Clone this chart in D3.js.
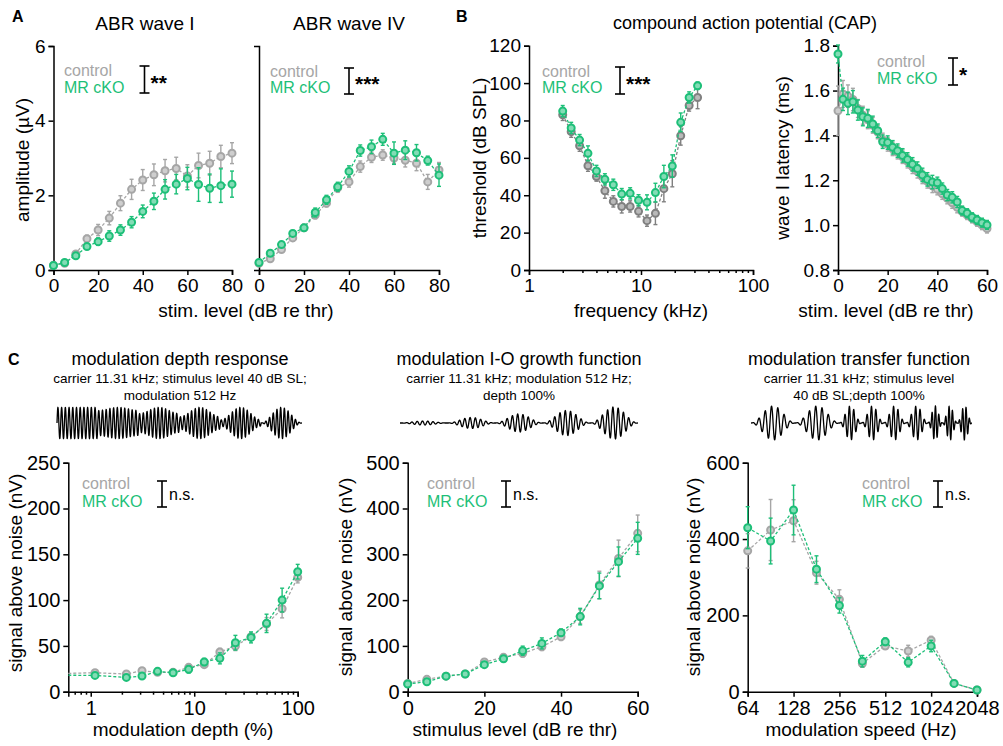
<!DOCTYPE html>
<html>
<head>
  <meta charset="utf-8">
  <title>ABR / CAP / modulation responses</title>
  <script src="https://d3js.org/d3.v7.min.js"></script>
  <style>
    body { margin: 0; background: #fff; }
    text { font-family: "Liberation Sans", Arial, sans-serif; }
  </style>
</head>
<body>
  <script>
    // ---- data ----
    var ABR_LEVELS = [0, 5, 10, 15, 20, 25, 30, 35, 40, 45, 50, 55, 60, 65, 70, 75, 80];
    var W1_CTRL     = [0.13, 0.18, 0.43, 0.84, 1.07, 1.39, 1.79, 2.16, 2.41, 2.55, 2.66, 2.72, 2.52, 2.80, 2.86, 3.04, 3.13];
    var W1_CTRL_SEM = [0.03, 0.04, 0.06, 0.09, 0.15, 0.18, 0.20, 0.27, 0.28, 0.29, 0.30, 0.30, 0.30, 0.33, 0.32, 0.30, 0.28];
    var W1_MR       = [0.12, 0.20, 0.38, 0.63, 0.76, 0.91, 1.07, 1.28, 1.57, 1.84, 2.16, 2.30, 2.45, 2.29, 2.19, 2.26, 2.30];
    var W1_MR_SEM   = [0.03, 0.04, 0.06, 0.07, 0.10, 0.14, 0.14, 0.15, 0.17, 0.22, 0.26, 0.26, 0.30, 0.45, 0.38, 0.45, 0.35];
    var W4_CTRL     = [0.18, 0.30, 0.55, 0.86, 1.13, 1.47, 1.79, 2.20, 2.36, 2.77, 3.02, 3.08, 3.00, 2.94, 2.86, 2.36, 2.68];
    var W4_CTRL_SEM = [0.05, 0.06, 0.07, 0.08, 0.08, 0.10, 0.10, 0.12, 0.14, 0.15, 0.14, 0.14, 0.14, 0.18, 0.20, 0.20, 0.20];
    var W4_MR       = [0.20, 0.45, 0.68, 0.98, 1.13, 1.54, 1.88, 2.23, 2.64, 3.20, 3.30, 3.50, 3.13, 3.21, 3.14, 2.93, 2.54];
    var W4_MR_SEM   = [0.05, 0.06, 0.07, 0.08, 0.08, 0.12, 0.12, 0.12, 0.15, 0.15, 0.18, 0.16, 0.30, 0.25, 0.22, 0.12, 0.30];

    var CAP_FREQ = [2, 2.38, 2.83, 3.36, 4, 4.76, 5.66, 6.73, 8, 9.51, 11.31, 13.45, 16, 19.03, 22.63, 26.91, 32];
    var THR_CTRL     = [83, 74, 66.5, 55.8, 50, 42.4, 36.7, 34, 34, 31.4, 26.4, 30.3, 43.5, 51.5, 71.8, 88, 92.3];
    var THR_CTRL_SEM = [3, 3, 3, 3, 2.5, 4, 3, 3.5, 3, 3, 3, 6, 7, 7, 5, 3, 6];
    var THR_MR       = [85, 76, 69.5, 62.4, 53, 48.5, 45.6, 40.6, 41, 37.3, 36.2, 41.4, 50, 55.6, 79, 92.3, 98.6];
    var THR_MR_SEM   = [3, 3, 3, 4, 3, 3, 3, 3, 3, 3, 4, 5, 6, 6, 5, 3, 2];

    var LAT_LEVELS = [0, 2, 4, 6, 8, 10, 12, 14, 16, 18, 20, 22, 24, 26, 28, 30, 32, 34, 36, 38, 40, 42, 44, 46, 48, 50, 52, 54, 56, 58, 60];
    var LAT_CTRL     = [1.51, 1.585, 1.575, 1.56, 1.52, 1.49, 1.47, 1.445, 1.415, 1.38, 1.36, 1.34, 1.325, 1.305, 1.285, 1.26,
                        1.24, 1.215, 1.195, 1.175, 1.16, 1.14, 1.12, 1.10, 1.08, 1.06, 1.045, 1.03, 1.015, 1.00, 0.985];
    var LAT_CTRL_SEM = [0.11, 0.06, 0.05, 0.05, 0.04, 0.04, 0.04, 0.035, 0.03, 0.03, 0.03, 0.03, 0.03, 0.03, 0.03, 0.03,
                        0.03, 0.03, 0.03, 0.03, 0.025, 0.025, 0.025, 0.025, 0.025, 0.02, 0.02, 0.02, 0.02, 0.02, 0.02];
    var LAT_MR       = [1.763, 1.561, 1.543, 1.55, 1.513, 1.483, 1.476, 1.451, 1.421, 1.372, 1.368, 1.347, 1.332, 1.311, 1.293, 1.271,
                        1.252, 1.224, 1.204, 1.192, 1.189, 1.163, 1.134, 1.124, 1.103, 1.065, 1.053, 1.035, 1.023, 1.011, 1.001];
    var LAT_MR_SEM   = [0.04, 0.05, 0.05, 0.05, 0.045, 0.04, 0.04, 0.035, 0.03, 0.03, 0.03, 0.03, 0.03, 0.03, 0.03, 0.03,
                        0.03, 0.03, 0.03, 0.03, 0.025, 0.025, 0.025, 0.025, 0.025, 0.02, 0.02, 0.02, 0.02, 0.02, 0.02];

    var DEPTHS = [0, 1.1, 2.21, 3.13, 4.42, 6.25, 8.84, 12.5, 17.7, 25, 35.4, 50, 70.7, 100];
    var MDR_CTRL     = [20, 20.7, 19.3, 22.9, 21.1, 21.1, 26.6, 29.5, 43.3, 49.9, 60, 73.9, 90.6, 124.8];
    var MDR_CTRL_SEM = [0, 2, 2, 2, 2, 2, 3, 3, 4, 5, 4, 7, 10, 6];
    var MDR_MR       = [18, 17.8, 15.6, 17.1, 22.2, 20.7, 24.4, 32.4, 36.4, 53.5, 59.3, 74.6, 100, 131];
    var MDR_MR_SEM   = [0, 2, 2, 2, 2, 2, 4, 4, 6, 8, 6, 10, 13, 8];

    var IO_LEVELS = [0, 5, 10, 15, 20, 25, 30, 35, 40, 45, 50, 55, 60];
    var IO_CTRL     = [18, 27, 34, 38.6, 64.8, 75, 83.7, 98, 120, 164, 233, 291, 345.7];
    var IO_CTRL_SEM = [3, 4, 4, 4, 6, 6, 8, 8, 8, 15, 30, 40, 40];
    var IO_MR       = [16.7, 21.8, 34, 38.6, 59, 72, 89.5, 105.5, 128.8, 164, 231, 284, 334.8];
    var IO_MR_SEM   = [3, 4, 4, 4, 6, 6, 10, 12, 8, 18, 28, 32, 35];

    var MTF_SPEEDS = [64, 90.5, 128, 181, 256, 362, 512, 724, 1024, 1448, 2048];
    var MTF_CTRL     = [369, 423.6, 448, 311.8, 242, 74, 119.7, 106.6, 135, 21.8, 4.4];
    var MTF_CTRL_SEM = [45, 80, 55, 30, 25, 10, 8, 15, 10, 3, 2];
    var MTF_MR       = [429.7, 394.8, 476, 321, 226, 80, 131, 77, 119.7, 21.8, 4.4];
    var MTF_MR_SEM   = [55, 60, 65, 35, 20, 15, 10, 12, 15, 3, 2];

    // stimulus sketches (parameters of each segment)
    var SKETCH_DEPTHS = [0, 0.2, 0.4, 0.6, 0.8, 1.0];
    var SKETCH_LEVELS = [0, 15, 30, 45, 60];
    var SKETCH_SPEEDS = [64, 128, 256, 512, 1024];

    var GREY = '#a6a6a6', GREY_DARK = '#808080', GREEN = '#1dbf78';

    var svg = d3.select('body').append('svg')
        .attr('width', 1003)
        .attr('height', 746);

    function txt(x, y, s, size, opts) {
      opts = opts || {};
      var t = svg.append('text')
          .attr('x', x).attr('y', y)
          .attr('font-size', size)
          .attr('fill', opts.fill || '#000')
          .attr('text-anchor', opts.anchor || 'start')
          .text(s);
      if (opts.bold) t.attr('font-weight', 'bold');
      if (opts.rotate) t.attr('transform', 'rotate(-90,' + x + ',' + y + ')');
      return t;
    }

    function styleAxis(g, fs) {
      g.select('.domain').attr('stroke', '#000').attr('stroke-width', 1.5);
      g.selectAll('.tick line').attr('stroke', '#000').attr('stroke-width', 1.5);
      g.selectAll('.tick text').attr('font-size', fs).attr('fill', '#000')
          .attr('font-family', '"Liberation Sans", Arial, sans-serif');
    }

    function drawAxes(p) {
      var x0 = p.x.range()[0];
      var yAxis = d3.axisLeft(p.y).tickSizeOuter(0).tickSize(5).tickPadding(3)
          .tickFormat(p.yFormat || d3.format('d'));
      if (p.yTicks) yAxis.tickValues(p.yTicks); else yAxis.tickValues([]);
      var gy = svg.append('g').attr('transform', 'translate(' + x0 + ',0)').call(yAxis);
      styleAxis(gy, p.fs);

      var xAxis = d3.axisBottom(p.x).tickSizeOuter(0).tickSize(5).tickPadding(4)
          .tickValues(p.xTicks).tickFormat(p.xFormat || d3.format('d'));
      var gx = svg.append('g').attr('transform', 'translate(0,' + p.y.range()[0] + ')').call(xAxis);
      styleAxis(gx, p.fs);
      if (p.minor) {
        gx.selectAll('.tick').filter(function (d) { return p.minor(d); })
            .select('line').attr('y2', 3);
      }
    }

    function plotSeries(p, xs, ys, sem, color) {
      var pts = xs.map(function (v, i) { return {x: v, y: ys[i], e: sem[i]}; });
      var px = function (d) { return d.x === 0 && p.logX ? p.x.range()[0] : p.x(d.x); };
      var g = svg.append('g');
      g.append('path').datum(pts)
          .attr('d', d3.line().x(px).y(function (d) { return p.y(d.y); }))
          .attr('fill', 'none').attr('stroke', color)
          .attr('stroke-width', 1.3).attr('stroke-dasharray', '3,2');
      var shown = pts.filter(function (d) { return !(d.x === 0 && p.logX); });
      var eb = g.selectAll('.eb').data(shown).enter().append('g')
          .attr('stroke', color).attr('stroke-width', 1.4);
      eb.append('line')
          .attr('x1', px).attr('x2', px)
          .attr('y1', function (d) { return p.y(d.y - d.e); })
          .attr('y2', function (d) { return p.y(d.y + d.e); });
      [-1, 1].forEach(function (s) {
        eb.append('line')
            .attr('x1', function (d) { return px(d) - 2; })
            .attr('x2', function (d) { return px(d) + 2; })
            .attr('y1', function (d) { return p.y(d.y + s * d.e); })
            .attr('y2', function (d) { return p.y(d.y + s * d.e); });
      });
      g.selectAll('circle').data(shown).enter().append('circle')
          .attr('cx', px)
          .attr('cy', function (d) { return p.y(d.y); })
          .attr('r', 3.5)
          .attr('fill', d3.interpolateRgb(color, '#fff')(0.45))
          .attr('stroke', color).attr('stroke-width', 2);
    }

    function legend(x, yCtrl, yMr, barX, barTop, barBot, sig, sigSize, ctrlColor) {
      txt(x, yCtrl, 'control', 16, {fill: ctrlColor || GREY});
      txt(x, yMr, 'MR cKO', 16, {fill: GREEN});
      var g = svg.append('g').attr('stroke', '#000').attr('stroke-width', 1.6);
      g.append('line').attr('x1', barX).attr('x2', barX).attr('y1', barTop).attr('y2', barBot);
      g.append('line').attr('x1', barX - 5).attr('x2', barX + 5).attr('y1', barTop).attr('y2', barTop);
      g.append('line').attr('x1', barX - 5).attr('x2', barX + 5).attr('y1', barBot).attr('y2', barBot);
      if (sig === 'n.s.') txt(barX + 7, (barTop + barBot) / 2 + 6, sig, 16);
      else txt(barX + 6, (barTop + barBot) / 2 + 10, sig, sigSize, {bold: true});
    }

    var logMinor = function (d) {
      var e = Math.pow(10, Math.floor(Math.log10(d) + 1e-9));
      return Math.abs(d / e - 1) > 1e-6;
    };
    var logFmt = function (d) { return logMinor(d) ? '' : d3.format('d')(d); };
    function logTicks(lo, hi) {
      var t = [];
      [0.1, 1, 10].forEach(function (e) {
        for (var k = 1; k <= 9; k++) {
          var v = +(k * e).toFixed(3);
          if (v >= lo - 1e-9 && v <= hi + 1e-9) t.push(v);
        }
      });
      if (hi >= 100) t.push(100);
      return t;
    }

    // ---------- Panel A ----------
    txt(12, 22, 'A', 16, {bold: true});
    txt(145, 30, 'ABR wave I', 19, {anchor: 'middle'});
    txt(349, 30, 'ABR wave IV', 19, {anchor: 'middle'});

    var a1 = {x: d3.scaleLinear().domain([0, 80]).range([53.5, 232]),
              y: d3.scaleLinear().domain([0, 6]).range([270, 46]),
              xTicks: [0, 20, 40, 60, 80], yTicks: [0, 2, 4, 6], fs: 19};
    drawAxes(a1);
    plotSeries(a1, ABR_LEVELS, W1_CTRL, W1_CTRL_SEM, GREY);
    plotSeries(a1, ABR_LEVELS, W1_MR, W1_MR_SEM, GREEN);
    legend(64, 76, 93, 144.5, 66, 93, '**', 21);

    var a2 = {x: d3.scaleLinear().domain([0, 80]).range([259, 439]),
              y: d3.scaleLinear().domain([0, 6]).range([270, 46]),
              xTicks: [0, 20, 40, 60, 80], yTicks: null, fs: 19};
    drawAxes(a2);
    plotSeries(a2, ABR_LEVELS, W4_CTRL, W4_CTRL_SEM, GREY);
    plotSeries(a2, ABR_LEVELS, W4_MR, W4_MR_SEM, GREEN);
    legend(270, 77, 93, 349, 68, 94, '***', 21);

    txt(29, 160, 'amplitude (\u00b5V)', 19, {anchor: 'middle', rotate: true});
    txt(246, 317, 'stim. level (dB re thr)', 19, {anchor: 'middle'});

    // ---------- Panel B ----------
    txt(456, 22, 'B', 16, {bold: true});
    txt(745, 29, 'compound action potential (CAP)', 18, {anchor: 'middle'});

    var b1 = {x: d3.scaleLog().domain([1, 100]).range([529, 753]),
              y: d3.scaleLinear().domain([0, 120]).range([270, 45.7]),
              xTicks: logTicks(1, 100), xFormat: logFmt, minor: logMinor,
              yTicks: [0, 20, 40, 60, 80, 100, 120], fs: 19};
    drawAxes(b1);
    plotSeries(b1, CAP_FREQ, THR_CTRL, THR_CTRL_SEM, GREY_DARK);
    plotSeries(b1, CAP_FREQ, THR_MR, THR_MR_SEM, GREEN);
    legend(542, 77, 93, 620, 67, 94, '***', 21);
    txt(486, 158, 'threshold (dB SPL)', 19, {anchor: 'middle', rotate: true});
    txt(641, 317, 'frequency (kHz)', 19, {anchor: 'middle'});

    var b2 = {x: d3.scaleLinear().domain([0, 60]).range([838, 987]),
              y: d3.scaleLinear().domain([0.8, 1.8]).range([270, 45.7]),
              xTicks: [0, 20, 40, 60], yTicks: [0.8, 1.0, 1.2, 1.4, 1.6, 1.8],
              yFormat: d3.format('.1f'), fs: 19};
    drawAxes(b2);
    plotSeries(b2, LAT_LEVELS, LAT_CTRL, LAT_CTRL_SEM, GREY);
    plotSeries(b2, LAT_LEVELS, LAT_MR, LAT_MR_SEM, GREEN);
    legend(877, 67, 84, 953, 58, 85, '*', 21);
    txt(789, 158, 'wave I latency (ms)', 19, {anchor: 'middle', rotate: true});
    txt(886, 317, 'stim. level (dB re thr)', 19, {anchor: 'middle'});

    // ---------- Panel C ----------
    txt(8, 365, 'C', 16, {bold: true});

    function sketch(x0, x1, segs) {
      var w = (x1 - x0) / segs.length;
      var pts = [];
      segs.forEach(function (s, i) {
        for (var t = 0; t <= 1.0001; t += 0.0015) {
          var env = s.amp * (1 - s.depth * (1 + Math.cos(2 * Math.PI * s.cycles * t)) / 2);
          pts.push([x0 + (i + t) * w, 423 - env * Math.sin(2 * Math.PI * s.carrier * t)]);
        }
      });
      svg.append('path').datum(pts).attr('d', d3.line())
          .attr('fill', 'none').attr('stroke', '#000').attr('stroke-width', 1.3);
    }

    // modulation depth response
    txt(180, 365, 'modulation depth response', 18, {anchor: 'middle'});
    txt(180, 383, 'carrier 11.31 kHz; stimulus level 40 dB SL;', 13.5, {anchor: 'middle'});
    txt(180, 400, 'modulation 512 Hz', 13.5, {anchor: 'middle'});
    sketch(57, 302, SKETCH_DEPTHS.map(function (d) {
      return {amp: 15.5, depth: d, cycles: 1, carrier: 11};
    }));

    // I-O growth function
    txt(519, 365, 'modulation I-O growth function', 18, {anchor: 'middle'});
    txt(519, 383, 'carrier 11.31 kHz; modulation 512 Hz;', 13.5, {anchor: 'middle'});
    txt(519, 400, 'depth 100%', 13.5, {anchor: 'middle'});
    var ampScale = d3.scaleLinear().domain([0, 60]).range([2, 16]);
    sketch(400, 638, SKETCH_LEVELS.map(function (l) {
      return {amp: ampScale(l), depth: 1, cycles: 1, carrier: 9};
    }));

    // modulation transfer function
    txt(859, 365, 'modulation transfer function', 18, {anchor: 'middle'});
    txt(859, 383, 'carrier 11.31 kHz; stimulus level', 13.5, {anchor: 'middle'});
    txt(859, 400, '40 dB SL;depth 100%', 13.5, {anchor: 'middle'});
    sketch(751, 972, SKETCH_SPEEDS.map(function (s) {
      var c = 1 + Math.floor(Math.log2(s / 64) / 2);
      return {amp: 17, depth: 1, cycles: c, carrier: 4 + c * 3};
    }));

    var c1 = {x: d3.scaleLog().domain([0.607, 100]).range([68.3, 297.7]), logX: true,
              y: d3.scaleLinear().domain([0, 250]).range([691.7, 462.7]),
              xTicks: logTicks(0.7, 100), xFormat: logFmt, minor: logMinor,
              yTicks: [0, 50, 100, 150, 200, 250], fs: 20};
    drawAxes(c1);
    plotSeries(c1, DEPTHS, MDR_CTRL, MDR_CTRL_SEM, GREY);
    plotSeries(c1, DEPTHS, MDR_MR, MDR_MR_SEM, GREEN);
    legend(82, 489, 507, 162, 481, 507, 'n.s.');
    txt(22, 573, 'signal above noise (nV)', 19, {anchor: 'middle', rotate: true});
    txt(183, 736, 'modulation depth (%)', 19, {anchor: 'middle'});

    var c2 = {x: d3.scaleLinear().domain([0, 60]).range([407.7, 637.7]),
              y: d3.scaleLinear().domain([0, 500]).range([691.7, 462.7]),
              xTicks: [0, 20, 40, 60], yTicks: [0, 100, 200, 300, 400, 500], fs: 20};
    drawAxes(c2);
    plotSeries(c2, IO_LEVELS, IO_CTRL, IO_CTRL_SEM, GREY);
    plotSeries(c2, IO_LEVELS, IO_MR, IO_MR_SEM, GREEN);
    legend(427, 489, 507, 506, 481, 507, 'n.s.');
    txt(352, 577, 'signal above noise (nV)', 19, {anchor: 'middle', rotate: true});
    txt(515, 736, 'stimulus level (dB re thr)', 19, {anchor: 'middle'});

    var c3 = {x: d3.scaleLog().base(2).domain([64, 2048]).range([747.7, 977]),
              y: d3.scaleLinear().domain([0, 600]).range([691.7, 462.7]),
              xTicks: [64, 128, 256, 512, 1024, 2048],
              yTicks: [0, 200, 400, 600], fs: 20};
    drawAxes(c3);
    plotSeries(c3, MTF_SPEEDS, MTF_CTRL, MTF_CTRL_SEM, GREY);
    plotSeries(c3, MTF_SPEEDS, MTF_MR, MTF_MR_SEM, GREEN);
    legend(862, 489, 507, 938, 481, 507, 'n.s.');
    txt(700, 577, 'signal above noise (nV)', 19, {anchor: 'middle', rotate: true});
    txt(861, 736, 'modulation speed (Hz)', 19, {anchor: 'middle'});
  </script>
</body>
</html>
